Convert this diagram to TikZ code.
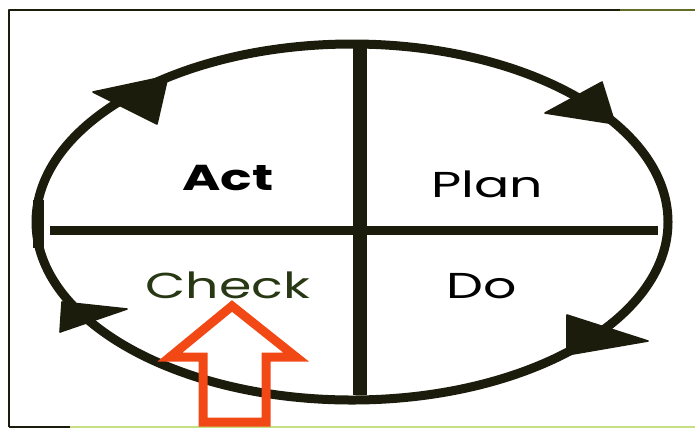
\documentclass[tikz,border=0pt]{standalone}
\usepackage{fontspec}
\setmainfont{Poppins}
\usetikzlibrary{positioning,calc}
\definecolor{ink}{RGB}{28,28,12}
\definecolor{checkink}{RGB}{40,56,20}
\definecolor{flag}{RGB}{242,72,22}
\definecolor{frameol}{RGB}{96,110,40}
\definecolor{framelt}{RGB}{200,222,130}

\begin{document}
\begin{tikzpicture}[x=0.5pt, y=-0.5pt, line join=round,
  loopline/.style={draw=ink, line width=4.5pt},
  crossline/.style={draw=ink},
  tip/.style={fill=ink, draw=ink, line width=0.8pt},
  word/.style={font=\fontsize{18}{18}\selectfont, xscale=1.45, inner sep=0pt}]
\useasboundingbox (0,0) rectangle (695,430);
% frame
\draw[ink, line width=1.4pt] (9,427) -- (9,10) -- (620,10);
\draw[frameol, line width=1.4pt] (620,10) -- (695,10);
\draw[framelt, line width=1.4pt] (70,427) -- (695,427);
\draw[ink, line width=1.4pt] (9,427) -- (70,427);
% cycle
\coordinate (top) at (360,45);
\coordinate (bottom) at (360,395);
\coordinate (left) at (50,230);
\coordinate (right) at (658,230);
\draw[loopline] (352,222) ellipse [x radius=316, y radius=178];
\draw[crossline, line width=4.5pt] (left) -- (right);
\draw[crossline, line width=7pt] (top) -- (bottom);
\fill[ink] (33,200) rectangle (44,248);
% arrowheads
\filldraw[tip] (93,92) -- (157,124) -- (168,76) -- cycle;
\filldraw[tip] (545,113) -- (602,82) -- (615,124) -- cycle;
\filldraw[tip] (567,315) -- (567,355) -- (648,341) -- cycle;
\filldraw[tip] (62,302) -- (60,332) -- (127,309) -- cycle;
% labels
\node[word, font=\fontsize{18}{18}\selectfont\bfseries] (act) at (228,178) {Act};
\node[word] (plan) at (487,184) {Plan};
\node[word, text=checkink] (check) at (228,285) {Check};
\node[word] (do) at (482,286) {Do};
% red arrow
\draw[flag, line width=4.5pt, line join=miter]
  (232,306) -- (296,357) -- (266,357) -- (266,422) -- (203,422)
  -- (203,357) -- (170,357) -- cycle;
\end{tikzpicture}
\end{document}
